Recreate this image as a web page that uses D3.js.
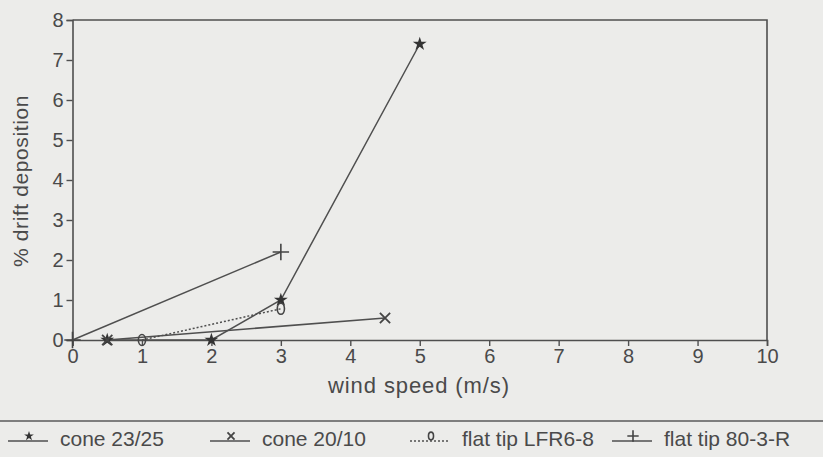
<!DOCTYPE html>
<html>
<head>
<meta charset="utf-8">
<script src="https://cdn.jsdelivr.net/npm/d3@7"></script>
<style>
  body { margin: 0; background: #ececea; }
  text { font-family: "Liberation Sans", Arial, sans-serif; fill: #4a4a4a; }
</style>
</head>
<body>
<div id="chart"></div>
<script>
// ---- data ----
const xTicks = [0, 1, 2, 3, 4, 5, 6, 7, 8, 9, 10];
const yTicks = [0, 1, 2, 3, 4, 5, 6, 7, 8];

const cone2325X = [0.5, 2, 3, 5];
const cone2325Y = [0, 0, 1.0, 7.4];

const cone2010X = [0.5, 4.5];
const cone2010Y = [0, 0.55];

const lfrX = [1, 3];
const lfrY = [0, 0.78];

const flat803X = [0, 3];
const flat803Y = [0, 2.2];

const seriesNames = ["cone 23/25", "cone 20/10", "flat tip LFR6-8", "flat tip 80-3-R"];

const width = 823, height = 457;
const ink = "#4f4f4f";

const svg = d3.select("#chart").append("svg")
  .attr("width", width)
  .attr("height", height);

const x = d3.scaleLinear().domain([0, 10]).range([72.5, 767]);
const y = d3.scaleLinear().domain([0, 8]).range([340, 20]);

// frame (top + right)
svg.append("path")
  .attr("d", `M${x(0)},${y(8)}H${x(10)}V${y(0)}`)
  .attr("fill", "none").attr("stroke", ink).attr("stroke-width", 1.6);

// axes
const xAxis = svg.append("g")
  .attr("transform", `translate(0,${y(0)})`)
  .call(d3.axisBottom(x).tickValues(xTicks).tickSize(6).tickPadding(3).tickFormat(d3.format("d")));
const yAxis = svg.append("g")
  .attr("transform", `translate(${x(0)},0)`)
  .call(d3.axisLeft(y).tickValues(yTicks).tickSize(6).tickPadding(3).tickFormat(d3.format("d")));

[xAxis, yAxis].forEach(g => {
  g.select(".domain").attr("stroke", ink).attr("stroke-width", 1.6);
  g.selectAll(".tick line").attr("stroke", ink).attr("stroke-width", 1.4);
  g.selectAll(".tick text").attr("font-size", 20).attr("fill", "#4a4a4a")
    .style("font-family", '"Liberation Sans", Arial, sans-serif');
});

// axis titles
svg.append("text")
  .attr("x", 419).attr("y", 393)
  .attr("text-anchor", "middle").attr("font-size", 22)
  .attr("letter-spacing", 0.9)
  .text("wind speed (m/s)");

svg.append("text")
  .attr("transform", `translate(28,181) rotate(-90)`)
  .attr("text-anchor", "middle").attr("font-size", 21)
  .attr("letter-spacing", 0.6)
  .text("% drift deposition");

// ---- series ----
const line = d3.line().x(d => x(d[0])).y(d => y(d[1]));
const zip = (xs, ys) => xs.map((v, i) => [v, ys[i]]);

const series = [
  { name: seriesNames[0], pts: zip(cone2325X, cone2325Y), dash: null, mark: "star" },
  { name: seriesNames[1], pts: zip(cone2010X, cone2010Y), dash: null, mark: "times" },
  { name: seriesNames[2], pts: zip(lfrX, lfrY), dash: "2,2", mark: "zero" },
  { name: seriesNames[3], pts: zip(flat803X, flat803Y), dash: null, mark: "plus" }
];

function drawMark(g, kind, cx, cy, s) {
  if (kind === "star") {
    g.append("path")
      .attr("d", d3.symbol(d3.symbolStar, 60 * s * s)())
      .attr("transform", `translate(${cx},${cy})`)
      .attr("fill", "#333");
  } else if (kind === "times") {
    g.append("path")
      .attr("d", d3.symbol(d3.symbolTimes, 70 * s * s)())
      .attr("transform", `translate(${cx},${cy})`)
      .attr("fill", "none").attr("stroke", "#444").attr("stroke-width", 1.8);
  } else if (kind === "plus") {
    g.append("path")
      .attr("d", d3.symbol(d3.symbolPlus, 90 * s * s)())
      .attr("transform", `translate(${cx},${cy})`)
      .attr("fill", "none").attr("stroke", "#444").attr("stroke-width", 1.6);
  } else {
    // "0"-shaped marker drawn as a narrow ellipse
    g.append("ellipse")
      .attr("cx", cx).attr("cy", cy)
      .attr("rx", 3.6 * s).attr("ry", 5.5 * s)
      .attr("fill", "none").attr("stroke", "#444").attr("stroke-width", 1.6);
  }
}

const plot = svg.append("g");
series.forEach(s => {
  plot.append("path")
    .attr("d", line(s.pts))
    .attr("fill", "none")
    .attr("stroke", ink)
    .attr("stroke-width", 1.5)
    .attr("stroke-dasharray", s.dash);
});
series.forEach(s => {
  s.pts.forEach(p => drawMark(plot, s.mark, x(p[0]), y(p[1]), 1));
});

// ---- legend ----
svg.append("line")
  .attr("x1", 0).attr("x2", width).attr("y1", 421).attr("y2", 421)
  .attr("stroke", "#5a5a5a").attr("stroke-width", 1.6);

const legendX = [8, 210, 410, 612];
series.forEach((s, i) => {
  const g = svg.append("g").attr("transform", `translate(${legendX[i]},0)`);
  g.append("line")
    .attr("x1", 0).attr("x2", 40).attr("y1", 441).attr("y2", 441)
    .attr("stroke", ink).attr("stroke-width", 1.4)
    .attr("stroke-dasharray", s.dash);
  drawMark(g, s.mark, 21, 436, 0.7);
  g.append("text")
    .attr("x", 52).attr("y", 446)
    .attr("font-size", 21)
    .text(s.name);
});
</script>
</body>
</html>
